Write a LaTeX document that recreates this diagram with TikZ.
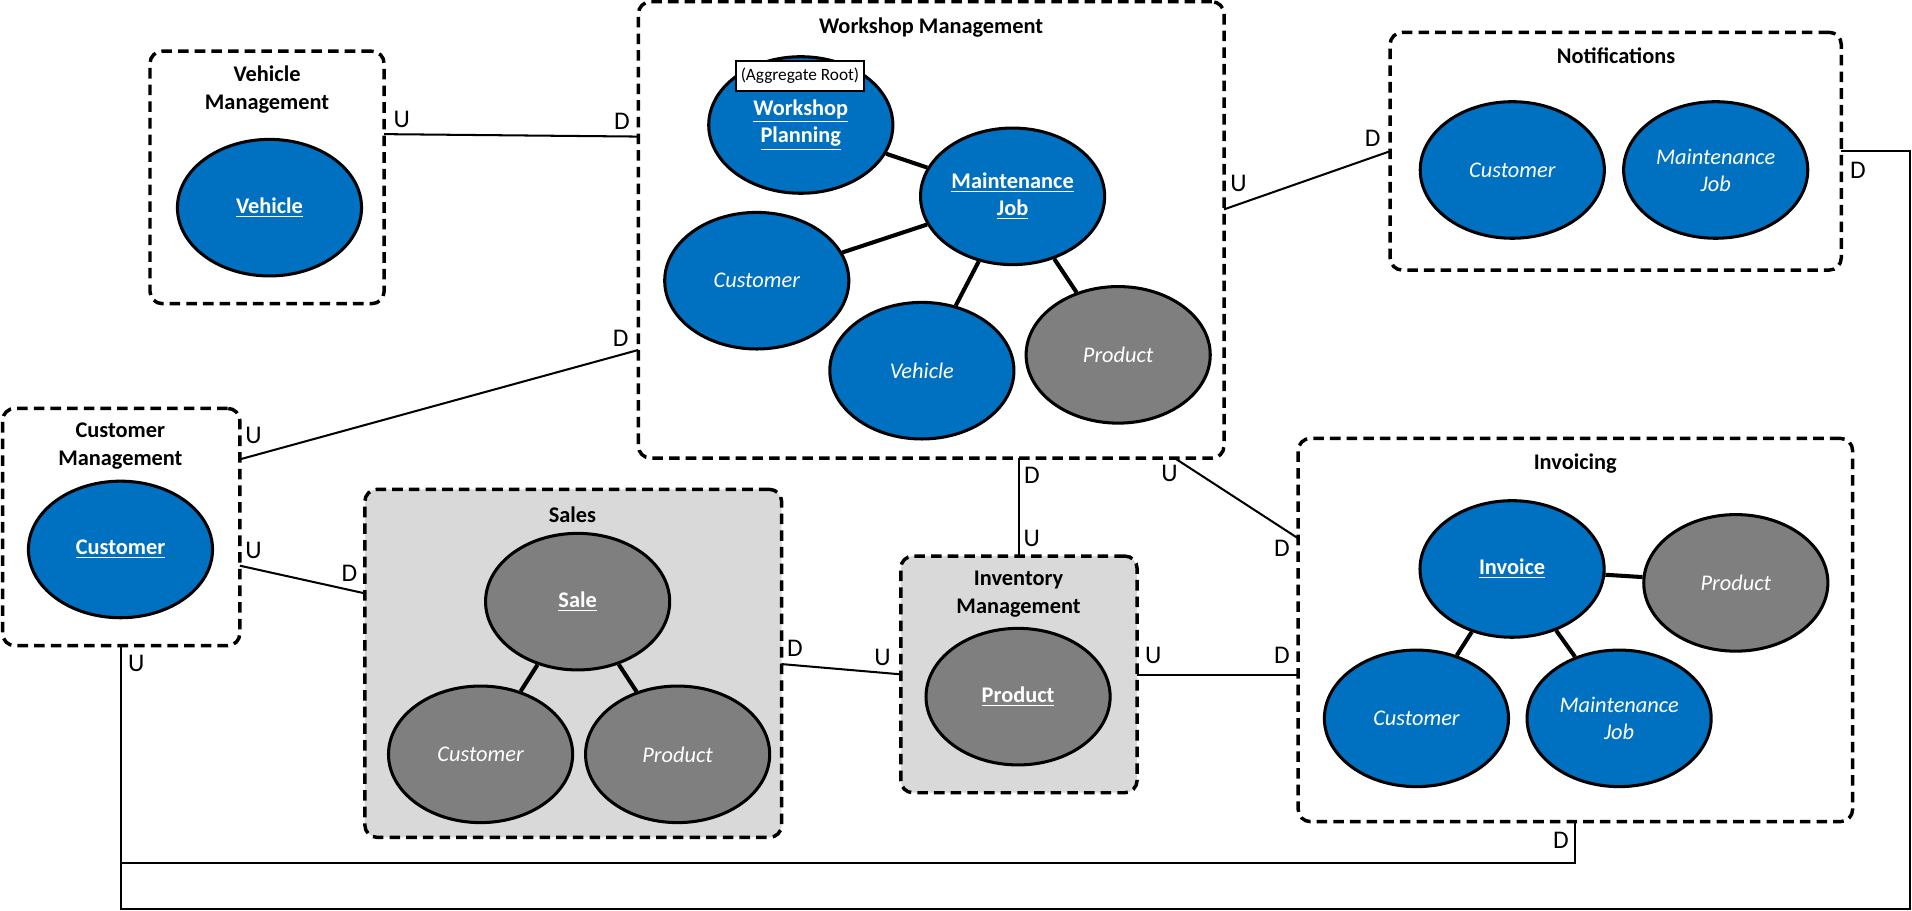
\documentclass[tikz,border=0pt]{standalone}
\usepackage{fontspec}
\setmainfont{Carlito}
\usepackage{xcolor}
\usetikzlibrary{shapes.geometric, fit}
\definecolor{entblue}{HTML}{0070C0}
\definecolor{entgrey}{HTML}{7F7F7F}
\definecolor{ctxgrey}{HTML}{D9D9D9}

\begin{document}
\begin{tikzpicture}[x=0.6pt, y=-0.6pt,
    ctx/.style={draw, line width=1.7pt, dash pattern=on 5.2pt off 3pt, rounded corners=6pt, inner sep=0pt, outer sep=0pt},
    ctxtitle/.style={font=\fontsize{11}{13.8}\selectfont\bfseries, align=center},
    ent/.style={ellipse, draw, line width=1.5pt, fill=entblue, text=white, minimum width=90.6pt, minimum height=67.2pt, inner sep=0pt, align=center},
    rootent/.style={ent, font=\fontsize{11}{13.2}\selectfont\bfseries},
    refent/.style={ent, font=\fontsize{11}{13.2}\selectfont\itshape},
    prod/.style={fill=entgrey},
    assoc/.style={line width=2pt},
    link/.style={line width=1pt},
    ud/.style={font=\fontsize{12.5}{14}\selectfont, inner sep=0pt}]
    \useasboundingbox (0, 0) rectangle (1568, 747);

    % bounded contexts
    \node[ctx, fit={(123, 42) (315, 249)}] (vm) {};
    \node[ctx, fit={(523.5, 1.4) (1003.8, 375.7)}] (wm) {};
    \node[ctx, fit={(1140, 26.5) (1510, 221.5)}] (nt) {};
    \node[ctx, fit={(2.1, 334.9) (196.7, 529.5)}] (cm) {};
    \node[ctx, fill=ctxgrey, fit={(299.2, 401.3) (641, 686.7)}] (sl) {};
    \node[ctx, fill=ctxgrey, fit={(738.7, 456) (932.5, 650.1)}] (im) {};
    \node[ctx, fit={(1064.6, 359.5) (1519.3, 673.8)}] (inv) {};

    \node[ctxtitle] at (219, 73.8) (vmtitle) {Vehicle\\Management};
    \node[ctxtitle] at (763.6, 23) (wmtitle) {Workshop Management};
    \node[ctxtitle] at (1325.3, 46) (nttitle) {Notifications};
    \node[ctxtitle] at (98.7, 365.9) (cmtitle) {Customer\\Management};
    \node[ctxtitle] at (469.5, 422.3) (sltitle) {Sales};
    \node[ctxtitle] at (835.3, 487) (imtitle) {Inventory\\Management};
    \node[ctxtitle] at (1291.8, 380.5) (invtitle) {Invoicing};

    % entities
    \node[rootent] at (221, 170.3) (vmveh) {\underline{Vehicle}};

    \node[rootent] at (656.7, 102.5) (wmplan) {\underline{Workshop}\\\underline{Planning}};
    \node[rootent] at (830.4, 161) (wmjob) {\underline{Maintenance}\\\underline{Job}};
    \node[refent] at (620.6, 230.2) (wmcust) {Customer};
    \node[refent] at (756, 304) (wmveh) {Vehicle};
    \node[refent, prod] at (917, 291) (wmprod) {Product};
    \node[draw, fill=white, line width=1pt, minimum width=62.7pt, minimum height=14.6pt, inner sep=0pt, font=\fontsize{8.5}{10}\selectfont] at (656, 62.2) (aggroot) {(Aggregate Root)};

    \node[refent] at (1240.2, 139.4) (ntcust) {Customer};
    \node[refent] at (1407, 139.4) (ntjob) {Maintenance\\Job};

    \node[rootent] at (98.8, 450.6) (cmcust) {\underline{Customer}};

    \node[rootent, prod] at (473.7, 493.4) (slsale) {\underline{Sale}};
    \node[refent, prod] at (394.1, 618.6) (slcust) {Customer};
    \node[refent, prod] at (555.7, 618.6) (slprod) {Product};

    \node[rootent, prod] at (834.9, 571.3) (improd) {\underline{Product}};

    \node[rootent] at (1240, 466.6) (invinv) {\underline{Invoice}};
    \node[refent, prod] at (1423.5, 478) (invprod) {Product};
    \node[refent] at (1161.6, 589.1) (invcust) {Customer};
    \node[refent] at (1327.8, 589.1) (invjob) {Maintenance\\Job};

    \draw [assoc] (wmplan) -- (wmjob);
    \draw [assoc] (wmcust) -- (wmjob);
    \draw [assoc] (wmveh) -- (wmjob);
    \draw [assoc] (wmprod) -- (wmjob);
    \draw [assoc] (slsale) -- (slcust);
    \draw [assoc] (slsale) -- (slprod);
    \draw [assoc] (invinv) -- (invprod);
    \draw [assoc] (invinv) -- (invcust);
    \draw [assoc] (invinv) -- (invjob);

    % context map
    \draw [link] (vm.east |- 0,110) -- (wm.west |- 0,112);
    \draw [link] (cm.east |- 0,376.7) -- (wm.west |- 0,287);
    \draw [link] (wm.east |- 0,171.7) -- (nt.west);
    \draw [link] (cm.east |- 0,463.9) -- (sl.west |- 0,486.6);
    \draw [link] (im.north |- wm.south) -- (im.north);
    \draw [link] (wm.south -| 963.3,0) -- (inv.west |- 0,441.5);
    \draw [link] (sl.east |- 0,544.6) -- (im.west |- 0,553);
    \draw [link] (im.east |- 0,553.8) -- (inv.west |- 0,553.8);
    \draw [link] (inv.south) |- (cm.south |- 0,708);
    \draw [link] (nt.east) -| (1566.2,745.5) -| (cm.south);

    \node[ud] at (329.5, 97.6) {U};
    \node[ud] at (510, 99.2) {D};
    \node[ud] at (208, 356.7) {U};
    \node[ud] at (509, 277.4) {D};
    \node[ud] at (1015.7, 150.3) {U};
    \node[ud] at (1125.7, 113.4) {D};
    \node[ud] at (1523.7, 139.4) {D};
    \node[ud] at (208, 451) {U};
    \node[ud] at (286.6, 470.2) {D};
    \node[ud] at (111.7, 544) {U};
    \node[ud] at (846.2, 389.5) {D};
    \node[ud] at (846.2, 441.5) {U};
    \node[ud] at (959, 388.2) {U};
    \node[ud] at (1051.2, 449.7) {D};
    \node[ud] at (652, 531.7) {D};
    \node[ud] at (723.8, 539) {U};
    \node[ud] at (945.7, 537.7) {U};
    \node[ud] at (1051.2, 537.2) {D};
    \node[ud] at (1280, 689.4) {D};
\end{tikzpicture}
\end{document}
